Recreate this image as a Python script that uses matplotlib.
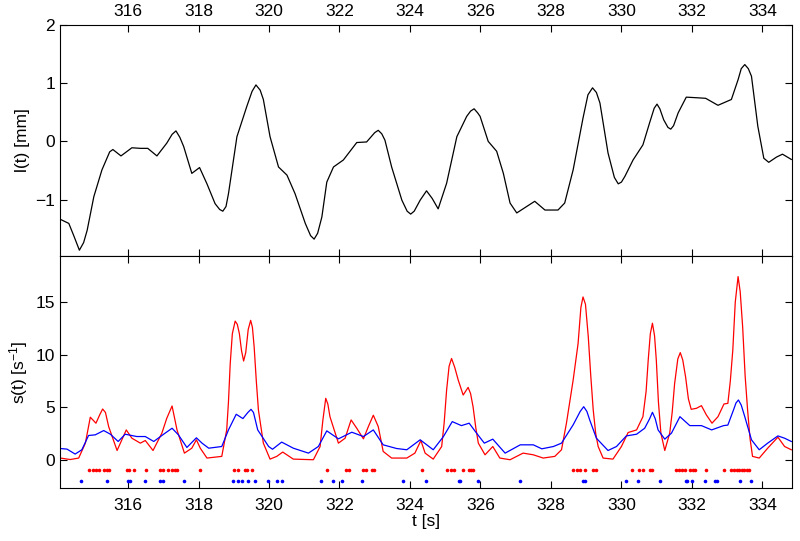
import numpy as np
import matplotlib
matplotlib.use('Agg')
import matplotlib.pyplot as plt

plt.rcParams['font.family'] = ['Liberation Sans', 'DejaVu Sans']
plt.rcParams['mathtext.fontset'] = 'custom'
plt.rcParams['mathtext.rm'] = 'Liberation Sans'
plt.rcParams['mathtext.it'] = 'Liberation Sans'

# upper trace l(t) [mm], (t, value) pairs
l_curve = [
    (314.08, -1.34), (314.32, -1.41), (314.46, -1.62), (314.62, -1.87), (314.74, -1.74),
    (314.84, -1.53), (315.03, -0.95), (315.26, -0.49), (315.48, -0.18), (315.57, -0.14),
    (315.80, -0.25), (316.11, -0.11), (316.35, -0.12), (316.56, -0.12), (316.82, -0.25),
    (317.10, -0.03), (317.25, 0.12), (317.36, 0.18), (317.47, 0.07), (317.58, -0.09),
    (317.81, -0.55), (318.03, -0.45), (318.24, -0.73), (318.47, -1.07), (318.60, -1.17),
    (318.69, -1.20), (318.78, -1.12), (318.85, -0.90), (319.09, 0.08), (319.37, 0.60),
    (319.52, 0.86), (319.63, 0.97), (319.75, 0.88), (319.84, 0.72), (320.03, 0.08),
    (320.27, -0.44), (320.51, -0.58), (320.74, -0.90), (321.03, -1.41), (321.18, -1.62),
    (321.28, -1.68), (321.38, -1.58), (321.50, -1.30), (321.64, -0.70), (321.83, -0.44),
    (322.11, -0.32), (322.49, -0.02), (322.77, -0.01), (323.00, 0.15), (323.10, 0.19),
    (323.20, 0.13), (323.29, 0.02), (323.48, -0.44), (323.77, -1.01), (323.92, -1.20),
    (324.02, -1.25), (324.12, -1.20), (324.29, -1.01), (324.47, -0.85), (324.63, -0.98),
    (324.80, -1.16), (325.04, -0.72), (325.33, 0.08), (325.61, 0.43), (325.72, 0.52),
    (325.82, 0.56), (325.92, 0.49), (325.99, 0.43), (326.22, 0.0), (326.46, -0.17),
    (326.65, -0.55), (326.84, -1.06), (327.03, -1.23), (327.31, -1.12), (327.54, -1.03),
    (327.83, -1.18), (328.20, -1.18), (328.39, -1.06), (328.63, -0.49), (328.91, 0.40),
    (329.05, 0.80), (329.18, 0.92), (329.29, 0.84), (329.39, 0.66), (329.62, -0.20),
    (329.80, -0.62), (329.91, -0.73), (330.00, -0.70), (330.10, -0.60), (330.33, -0.32),
    (330.61, -0.06), (330.80, 0.32), (330.93, 0.57), (331.01, 0.64), (331.09, 0.56),
    (331.20, 0.37), (331.32, 0.24), (331.40, 0.21), (331.48, 0.27), (331.61, 0.49),
    (331.84, 0.76), (332.13, 0.75), (332.39, 0.74), (332.74, 0.62), (333.12, 0.72),
    (333.31, 1.06), (333.40, 1.25), (333.50, 1.32), (333.60, 1.25), (333.69, 1.12),
    (333.87, 0.26), (334.04, -0.29), (334.18, -0.36), (334.40, -0.27), (334.57, -0.22),
    (334.82, -0.31),
]

# lower traces s(t) [1/s]
red_curve = [
    (314.08, 0.16), (314.36, 0.02), (314.60, 0.16), (314.79, 1.58), (314.93, 4.05),
    (315.09, 3.48), (315.20, 4.3), (315.28, 4.83), (315.36, 4.5), (315.45, 3.16),
    (315.69, 0.88), (315.95, 2.84), (316.11, 2.05), (316.35, 1.58), (316.49, 1.83),
    (316.71, 0.88), (316.96, 2.53), (317.10, 3.95), (317.25, 5.12), (317.39, 2.84),
    (317.60, 0.63), (317.81, 1.10), (317.94, 1.90), (318.05, 1.10), (318.24, 0.16),
    (318.66, 0.32), (318.80, 2.84), (318.85, 5.5), (318.90, 9.16), (318.96, 12.0),
    (319.04, 13.2), (319.10, 12.9), (319.16, 12.0), (319.22, 10.4), (319.28, 9.4),
    (319.34, 10.2), (319.41, 12.4), (319.48, 13.27), (319.53, 12.6), (319.58, 10.7),
    (319.64, 7.5), (319.70, 4.74), (319.84, 1.58), (320.03, 0.06), (320.22, 0.32),
    (320.39, 0.73), (320.69, 0.06), (321.26, 0.0), (321.45, 1.26), (321.53, 3.8),
    (321.61, 5.85), (321.67, 5.3), (321.73, 4.1), (321.97, 1.58), (322.16, 2.05),
    (322.33, 3.79), (322.49, 3.0), (322.68, 1.99), (322.82, 3.16), (322.96, 4.24),
    (323.10, 3.16), (323.24, 0.79), (323.48, 0.16), (323.91, 0.16), (324.14, 0.63),
    (324.31, 1.83), (324.43, 0.63), (324.66, 0.06), (324.90, 1.26), (324.97, 3.5),
    (325.04, 6.64), (325.11, 8.9), (325.18, 9.64), (325.27, 8.8), (325.37, 7.58),
    (325.51, 6.16), (325.65, 6.89), (325.72, 6.3), (325.79, 5.05), (325.87, 3.0),
    (325.94, 1.58), (326.13, 0.47), (326.35, 1.26), (326.55, 0.16), (326.84, 0.0),
    (327.21, 0.63), (327.50, 0.47), (327.78, 0.16), (328.11, 0.32), (328.30, 0.95),
    (328.44, 3.48), (328.63, 7.58), (328.77, 11.06), (328.85, 14.5), (328.91, 15.5),
    (328.98, 14.8), (329.06, 11.69), (329.13, 8.0), (329.20, 4.74), (329.27, 2.5),
    (329.34, 1.26), (329.48, 0.16), (329.76, 0.06), (330.00, 1.26), (330.19, 2.59),
    (330.43, 2.84), (330.61, 4.1), (330.70, 6.5), (330.76, 9.48), (330.82, 12.0),
    (330.88, 13.0), (330.94, 11.8), (330.99, 9.48), (331.05, 5.5), (331.12, 2.53),
    (331.23, 0.88), (331.37, 2.53), (331.44, 4.5), (331.51, 7.27), (331.60, 9.6),
    (331.67, 10.2), (331.74, 9.5), (331.82, 7.9), (331.90, 5.8), (331.98, 4.8),
    (332.13, 4.9), (332.27, 5.15), (332.41, 4.27), (332.57, 3.48), (332.74, 4.1),
    (332.91, 5.31), (333.02, 5.37), (333.09, 7.5), (333.16, 10.43), (333.23, 15.0),
    (333.31, 17.44), (333.37, 16.0), (333.44, 12.64), (333.51, 8.0), (333.58, 4.74),
    (333.65, 2.0), (333.72, 0.32), (333.91, 0.16), (334.15, 1.1), (334.44, 2.15),
    (334.63, 1.26), (334.82, 0.95),
]

blue_curve = [
    (314.08, 1.07), (314.27, 1.01), (314.50, 0.54), (314.69, 0.95), (314.88, 2.31),
    (315.07, 2.37), (315.31, 2.78), (315.50, 2.43), (315.72, 1.74), (315.92, 2.43),
    (316.25, 2.21), (316.49, 2.21), (316.73, 1.74), (317.01, 2.43), (317.25, 3.0),
    (317.43, 2.37), (317.67, 1.17), (317.94, 2.09), (318.10, 1.58), (318.29, 1.10),
    (318.66, 1.26), (318.85, 2.84), (319.07, 4.33), (319.26, 3.92), (319.40, 4.5),
    (319.49, 4.8), (319.56, 4.5), (319.68, 2.84), (319.99, 1.26), (320.10, 1.00),
    (320.36, 1.68), (320.69, 1.10), (321.12, 0.63), (321.40, 1.26), (321.64, 2.75),
    (321.97, 1.99), (322.35, 2.62), (322.68, 2.21), (322.96, 2.84), (323.24, 1.42),
    (323.62, 1.07), (323.91, 0.95), (324.29, 1.90), (324.66, 0.95), (324.95, 2.21),
    (325.20, 3.63), (325.46, 3.25), (325.68, 3.48), (325.89, 2.53), (326.11, 1.58),
    (326.35, 1.96), (326.70, 0.63), (327.13, 1.42), (327.50, 1.42), (327.74, 1.04),
    (328.07, 1.26), (328.30, 1.58), (328.63, 3.32), (328.83, 4.6), (328.93, 5.05),
    (329.02, 4.6), (329.10, 3.79), (329.29, 2.05), (329.62, 0.88), (329.86, 1.26),
    (330.14, 2.27), (330.43, 2.43), (330.66, 3.0), (330.80, 3.9), (330.88, 4.52),
    (330.96, 3.9), (331.04, 2.84), (331.23, 1.96), (331.42, 2.53), (331.66, 4.1),
    (331.94, 3.25), (332.27, 3.25), (332.56, 2.84), (332.90, 3.25), (333.02, 3.3),
    (333.18, 4.74), (333.25, 5.4), (333.32, 5.69), (333.40, 5.2), (333.50, 4.1),
    (333.69, 1.9), (333.91, 0.95), (334.15, 1.58), (334.44, 2.27), (334.63, 2.05),
    (334.82, 1.74),
]

# spike times (drawn as rows of dots at s = -1 and s = -2)
spikes_red = [314.90, 315.00, 315.09, 315.19, 315.32, 315.39, 315.47, 315.96, 316.04, 316.18,
              316.52, 316.92, 317.00, 317.13, 317.25, 317.32, 317.40, 318.04, 319.02, 319.12,
              319.31, 319.37, 319.53, 321.64, 322.19, 322.27, 322.68, 322.75, 322.93, 322.99,
              324.34, 325.05, 325.17, 325.25, 325.50, 325.67, 325.73, 325.80, 328.63, 328.73,
              328.82, 328.96, 329.18, 329.29, 330.30, 330.49, 330.60, 330.80, 330.87, 331.56,
              331.64, 331.71, 331.79, 331.95, 332.03, 332.10, 332.41, 332.92, 333.12, 333.19,
              333.27, 333.34, 333.41, 333.48, 333.56, 333.63]
spikes_blue = [314.67, 315.39, 316.00, 316.06, 316.49, 316.92, 316.98, 317.58, 318.97, 319.12,
               319.23, 319.40, 319.61, 319.98, 320.24, 320.38, 321.47, 321.83, 322.07, 322.65,
               323.81, 324.45, 325.38, 325.43, 325.92, 327.12, 328.92, 328.97, 330.12, 330.48,
               331.10, 331.83, 331.87, 332.00, 332.36, 332.65, 332.70, 333.37, 333.69]

xticks = [316, 318, 320, 322, 324, 326, 328, 330, 332, 334]
xlim = (314.07, 334.84)

t_l, l_vals = zip(*l_curve)
t_red, s_red = zip(*red_curve)
t_blue, s_blue = zip(*blue_curve)

fig = plt.figure(figsize=(8.0, 5.41), dpi=100)
ax1 = fig.add_axes([0.075, 0.5268, 0.915, 0.427])
ax2 = fig.add_axes([0.075, 0.0974, 0.915, 0.4294])

# top panel
ax1.plot(t_l, l_vals, color='k', lw=0.9)
ax1.set_xlim(xlim)
ax1.set_ylim(-1.97, 2)
ax1.set_yticks([-1, 0, 1, 2])
ax1.set_yticklabels(['\u22121', '0', '1', '2'])
ax1.set_xticks(xticks)
ax1.xaxis.tick_top()
ax1.tick_params(axis='x', which='both', bottom=True, top=True,
                labeltop=True, labelbottom=False, pad=4)
ax1.set_ylabel('l(t) [mm]', fontsize=12.5)

# bottom panel
ax2.plot(t_red, s_red, color='#ff0000', lw=0.9)
ax2.plot(t_blue, s_blue, color='#0000ff', lw=0.9)
ax2.plot(spikes_red, np.full(len(spikes_red), -1.0), 'o', color='#ff0000',
         ms=2.6, mew=0)
ax2.plot(spikes_blue, np.full(len(spikes_blue), -2.0), 'o', color='#0000ff',
         ms=2.6, mew=0)
ax2.set_xlim(xlim)
ax2.set_ylim(-2.72, 19.4)
ax2.set_yticks([0, 5, 10, 15])
ax2.set_xticks(xticks)
ax2.tick_params(axis='x', top=True, pad=7)
ax2.set_xlabel('t [s]', fontsize=12.5, labelpad=1)
ax2.set_ylabel(r's(t) [s$^{-1}$]', fontsize=12.5)

for ax in (ax1, ax2):
    ax.tick_params(direction='in', length=5, width=0.8, labelsize=12.5, right=True)
    ax.tick_params(axis='y', pad=3.5)
    for sp in ax.spines.values():
        sp.set_linewidth(0.8)

fig.savefig('out.png', dpi=100)
